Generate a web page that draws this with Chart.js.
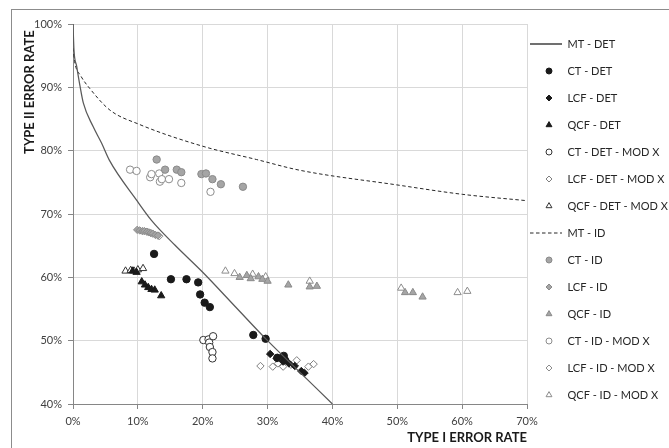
<!DOCTYPE html>
<html>
<head>
<meta charset="utf-8">
<script src="https://cdn.jsdelivr.net/npm/chart.js@4.4.1/dist/chart.umd.min.js"></script>
<style>
  body { margin: 0; background: #fff; }
  #wrap { position: relative; width: 669px; height: 448px; overflow: hidden; }
  #frame { position: absolute; left: 11px; top: 9px; width: 700px; height: 500px; border: 1px solid #8c8c8c; }
  #chart { position: absolute; left: 0; top: 0; }
</style>
</head>
<body>
<div id="wrap">
  <div id="frame"></div>
  <canvas id="chart" width="669" height="448"></canvas>
</div>
<script>
// values, [type I %, type II %]
let mtDet = [[0,100],[0.15,95.9],[0.57,93.3],[1.1,90.1],[1.6,87.5],[3.1,83.8],[4.4,81.2],[5.6,78.5],[9.8,72.2],[12.1,69.0],[15.7,65.1],[20,60.8],[25,55.4],[30,50.0],[35,45.0],[40,40]]
let mtId = [[0,96.2],[0.3,93.8],[1.2,91.8],[2.6,89.8],[5.7,86.4],[10.1,84.2],[20,80.7],[28.3,78.6],[35,76.9],[49.9,74.6],[60.1,73.1],[70,72.1]]

let ctDet = [[12.5,63.7],[15.1,59.7],[17.5,59.7],[19.3,59.2],[19.6,57.3],[20.3,56.0],[21.1,55.3],[27.8,50.9],[29.7,50.3],[31.5,47.3],[32.5,47.6],[32.7,46.9]]
let lcfDet = [[30.4,47.9],[31.4,47.2],[32.4,46.7],[33.3,46.4],[34.2,46.0],[35.2,45.2],[35.7,44.9]]
let qcfDet = [[9.2,61.0],[9.8,60.8],[10.6,59.3],[11.1,58.8],[11.6,58.4],[12.1,58.1],[12.6,58.0],[13.6,57.1]]
let ctDetMod = [[20.1,50.1],[20.9,50.2],[21.6,50.7],[21.0,49.7],[21.1,49.0],[21.5,48.2],[21.5,47.2]]
let lcfDetMod = [[28.9,46.0],[30.8,45.9],[31.6,46.4],[32.4,45.9],[33.6,46.2],[34.5,46.9],[36.3,45.9],[37.1,46.3]]
let qcfDetMod = [[8.1,61.0],[8.9,61.1],[9.4,61.0],[10.0,61.2],[10.8,61.4]]

let ctId = [[12.9,78.6],[14.2,77.0],[16.0,77.0],[16.7,76.6],[19.8,76.3],[20.5,76.4],[21.5,75.5],[22.8,74.7],[26.2,74.3]]
let lcfId = [[9.9,67.5],[10.3,67.4],[10.7,67.3],[11.0,67.3],[11.4,67.2],[11.7,67.1],[12.0,67.0],[12.3,66.9],[12.7,66.7],[13.1,66.6]]
let qcfId = [[25.7,60.0],[26.8,60.3],[27.4,59.8],[28.6,60.1],[29.2,59.7],[30.0,59.4],[33.2,58.8],[36.5,58.5],[37.6,58.6],[51.2,57.6],[52.4,57.6],[53.9,56.9]]
let ctIdMod = [[8.8,77.0],[9.8,76.8],[11.9,75.8],[12.1,76.3],[13.3,76.4],[13.4,75.1],[13.7,75.5],[14.8,75.5],[16.7,74.9],[21.2,73.5]]
let lcfIdMod = [[13.3,66.5]]
let qcfIdMod = [[23.5,61.0],[24.9,60.6],[27.7,60.5],[29.7,60.1],[36.5,59.4],[50.6,58.3],[59.3,57.6],[60.8,57.8]]

let xTicks = [0, 70, 10]   // min, max, step
let yTicks = [40, 100, 10]

const BLACK = '#1a1a1a'
const GRAY = '#a5a5a5'
const GRAY_EDGE = '#8a8a8a'

function pts(arr) {
    return arr.map(p => ({x: p[0], y: p[1]}))
}

function lineSet(label, arr, dash) {
    return {
        label: label, data: pts(arr), showLine: true, pointRadius: 0,
        borderColor: dash ? '#262626' : '#595959', borderWidth: dash ? 1 : 1.25,
        borderDash: dash ? [3.5, 2.5] : [], cubicInterpolationMode: 'monotone',
        fill: false, _legend: {line: true, dash: dash}
    }
}

function markSet(label, arr, style, fill, edge) {
    let r = style === 'triangle' ? 4.2 : 3.7
    return {
        label: label, data: pts(arr), pointStyle: style, pointRadius: r,
        backgroundColor: fill, borderColor: edge, borderWidth: 1,
        pointHoverRadius: r, _legend: {style: style, fill: fill, edge: edge}
    }
}

let datasets = [
    lineSet('MT - DET', mtDet, false),
    markSet('CT - DET', ctDet, 'circle', BLACK, BLACK),
    markSet('LCF - DET', lcfDet, 'rectRot', BLACK, BLACK),
    markSet('QCF - DET', qcfDet, 'triangle', BLACK, BLACK),
    markSet('CT - DET - MOD X', ctDetMod, 'circle', '#fff', '#333'),
    markSet('LCF - DET - MOD X', lcfDetMod, 'rectRot', '#fff', '#7f7f7f'),
    markSet('QCF - DET - MOD X', qcfDetMod, 'triangle', '#fff', '#333'),
    lineSet('MT - ID', mtId, true),
    markSet('CT - ID', ctId, 'circle', GRAY, GRAY_EDGE),
    markSet('LCF - ID', lcfId, 'rectRot', GRAY, GRAY_EDGE),
    markSet('QCF - ID', qcfId, 'triangle', GRAY, GRAY_EDGE),
    markSet('CT - ID - MOD X', ctIdMod, 'circle', '#fff', '#8c8c8c'),
    markSet('LCF - ID - MOD X', lcfIdMod, 'rectRot', '#fff', '#8c8c8c'),
    markSet('QCF - ID - MOD X', qcfIdMod, 'triangle', '#fff', '#8c8c8c')
]

// little pictures for the legend keys
function legendImage(info) {
    let c = document.createElement('canvas')
    c.width = 32
    c.height = 12
    let g = c.getContext('2d')
    if (info.line) {
        g.strokeStyle = info.dash ? '#262626' : '#1a1a1a'
        g.lineWidth = info.dash ? 1 : 1.25
        if (info.dash) g.setLineDash([3.5, 2.5])
        g.beginPath()
        g.moveTo(0, 6)
        g.lineTo(32, 6)
        g.stroke()
    } else {
        g.fillStyle = info.fill
        g.strokeStyle = info.edge
        g.lineWidth = 1
        Chart.helpers.drawPoint(g, {pointStyle: info.style, radius: info.style === 'triangle' ? 3.4 : 3, borderWidth: 1, rotation: 0}, 19, 6)
    }
    return c
}

const LEGEND_W = 142
const keepLegend = {
    id: 'keepLegend',
    beforeInit(chart) {
        let lg = chart.legend
        let fit = lg.fit
        lg.fit = function () {
            fit.call(this)
            this.width = LEGEND_W
        }
    },
    afterLayout(chart) {
        let lg = chart.legend
        lg.left = 514
        lg.right = 669
        lg.top = 22.5
        lg.bottom = 448
    }
}

let ctx = document.getElementById('chart').getContext('2d')
new Chart(ctx, {
    type: 'scatter',
    data: {datasets: datasets},
    plugins: [keepLegend],
    options: {
        responsive: false,
        animation: false,
        layout: {padding: {top: 24, left: 0, right: 0, bottom: 0}},
        scales: {
            x: {
                type: 'linear', min: xTicks[0], max: xTicks[1],
                ticks: {stepSize: xTicks[2], color: '#404040', padding: 6,
                        font: {family: 'Lato', size: 11}, callback: v => v + '%'},
                grid: {color: '#d9d9d9', tickColor: '#868686', tickLength: 5},
                border: {color: '#868686'},
                title: {display: true, text: 'TYPE I ERROR RATE', align: 'end', color: '#1a1a1a',
                        font: {family: 'Lato', size: 13, weight: 'bold'}, padding: {top: 0, bottom: 2}},
                afterFit: s => { s.height = 44 }
            },
            y: {
                type: 'linear', min: yTicks[0], max: yTicks[1],
                ticks: {stepSize: yTicks[2], color: '#404040', padding: 6,
                        font: {family: 'Lato', size: 11}, callback: v => v + '%'},
                grid: {color: '#d9d9d9', tickColor: '#868686', tickLength: 5},
                border: {color: '#868686'},
                title: {display: true, text: 'TYPE II ERROR RATE  ', align: 'end', color: '#1a1a1a',
                        font: {family: 'Lato', size: 13, weight: 'bold'}, padding: {top: 22, bottom: 0}},
                afterFit: s => { s.width = 73 }
            }
        },
        plugins: {
            tooltip: {enabled: false},
            legend: {
                position: 'right',
                align: 'start',
                labels: {
                    usePointStyle: true,
                    pointStyleWidth: 32,
                    padding: 16,
                    color: '#262626',
                    font: {family: 'Lato', size: 11},
                    generateLabels: function (chart) {
                        return chart.data.datasets.map((ds, i) => ({
                            text: ds.label,
                            pointStyle: legendImage(ds._legend),
                            fontColor: '#262626',
                            lineWidth: 0,
                            hidden: !chart.isDatasetVisible(i),
                            datasetIndex: i
                        }))
                    }
                }
            }
        }
    }
})
</script>
</body>
</html>
